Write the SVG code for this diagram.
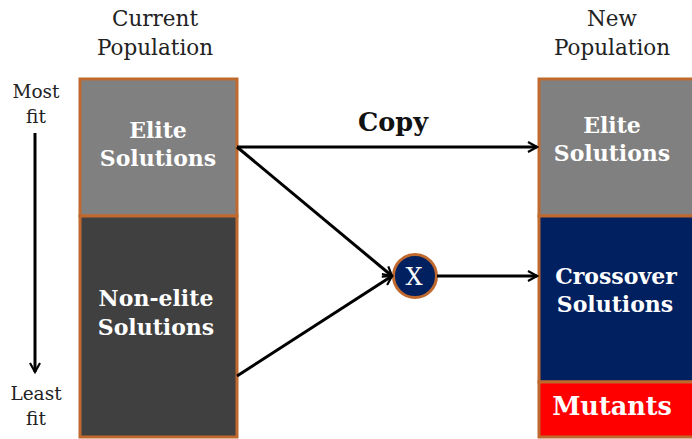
<svg xmlns="http://www.w3.org/2000/svg" width="692" height="439" viewBox="0 0 692 439">
  <style>
    .hdr { font-family: "DejaVu Serif", "Liberation Serif", serif; font-size: 21.5px; fill: #222; text-anchor: middle; }
    .fit { font-family: "DejaVu Serif", "Liberation Serif", serif; font-size: 18.5px; fill: #222; text-anchor: middle; }
    .lbl { font-family: "DejaVu Serif", "Liberation Serif", serif; font-size: 22px; font-weight: bold; fill: #fff; text-anchor: middle; }
    .box { stroke: #C0692F; stroke-width: 3; }
    .conn { stroke: #000; stroke-width: 3; fill: none; }
  </style>
  <defs>
    <marker id="arrow" viewBox="0 0 12 12" refX="10" refY="6" markerWidth="12" markerHeight="12" markerUnits="userSpaceOnUse" orient="auto">
      <path d="M1,1 L10,6 L1,11" fill="none" stroke="#000" stroke-width="2.2"/>
    </marker>
  </defs>
  <rect width="692" height="439" fill="#fff"/>

  <!-- column headings -->
  <text class="hdr" x="155" y="26">Current</text>
  <text class="hdr" x="155" y="55">Population</text>
  <text class="hdr" x="612" y="26">New</text>
  <text class="hdr" x="612" y="55">Population</text>

  <!-- fitness scale -->
  <g id="fitness-scale">
    <text class="fit" x="36" y="98">Most</text>
    <text class="fit" x="36" y="123">fit</text>
    <line x1="35" y1="133" x2="35" y2="372" class="conn" marker-end="url(#arrow)"/>
    <text class="fit" x="36" y="400">Least</text>
    <text class="fit" x="36" y="425">fit</text>
  </g>

  <!-- current population -->
  <g id="current-elite">
    <rect class="box" x="80" y="79" width="157" height="137" fill="#808080"/>
    <text class="lbl" x="158" y="138">Elite</text>
    <text class="lbl" x="158" y="166">Solutions</text>
  </g>
  <g id="current-nonelite">
    <rect class="box" x="80" y="216" width="157" height="221" fill="#404040"/>
    <text class="lbl" x="156" y="306">Non-elite</text>
    <text class="lbl" x="156" y="335">Solutions</text>
  </g>

  <!-- new population -->
  <g id="new-elite">
    <rect class="box" x="539" y="79" width="160" height="137" fill="#808080"/>
    <text class="lbl" x="612" y="133">Elite</text>
    <text class="lbl" x="612" y="161">Solutions</text>
  </g>
  <g id="new-crossover">
    <rect class="box" x="539" y="216" width="160" height="166" fill="#002060"/>
    <text class="lbl" x="616" y="284">Crossover</text>
    <text class="lbl" x="615" y="312">Solutions</text>
  </g>
  <g id="new-mutants">
    <rect class="box" x="539" y="382" width="160" height="55" fill="#FF0000"/>
    <text class="lbl" x="612" y="415" style="font-size:25.5px">Mutants</text>
  </g>

  <!-- crossover operator -->
  <g id="crossover-op">
    <circle cx="415" cy="276" r="21.5" fill="#002060" stroke="#C0692F" stroke-width="3"/>
    <text x="414" y="285" text-anchor="middle" style="font-family:'DejaVu Serif','Liberation Serif',serif;font-size:24px;fill:#fff">X</text>
  </g>

  <!-- connectors -->
  <g id="connectors">
    <line class="conn" x1="237" y1="147" x2="537" y2="147" marker-end="url(#arrow)"/>
    <line class="conn" x1="237" y1="147" x2="392" y2="276" marker-end="url(#arrow)"/>
    <line class="conn" x1="237" y1="376" x2="392" y2="276" marker-end="url(#arrow)"/>
    <line class="conn" x1="437" y1="276" x2="537" y2="276" marker-end="url(#arrow)"/>
    <text x="393" y="131" text-anchor="middle" style="font-family:'DejaVu Serif','Liberation Serif',serif;font-size:25.5px;font-weight:bold;fill:#111">Copy</text>
  </g>
</svg>
